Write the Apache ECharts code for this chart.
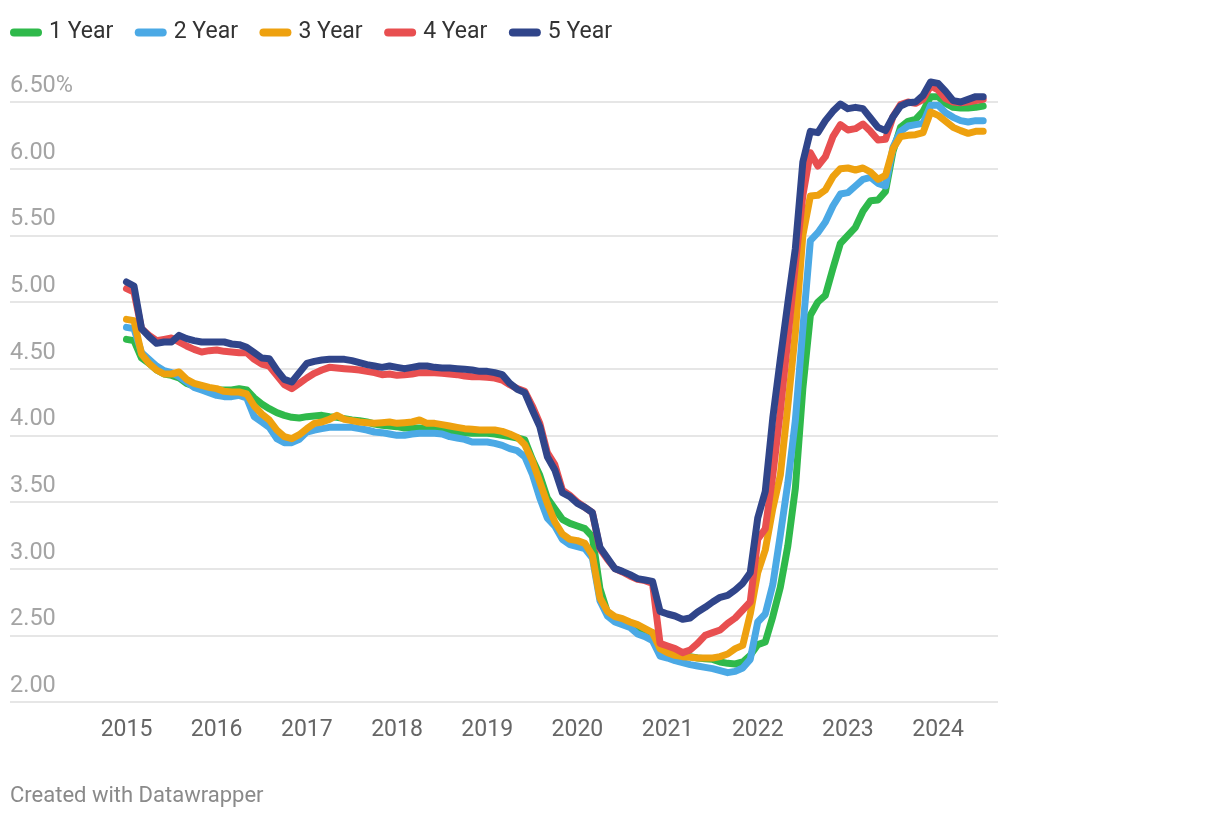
<!DOCTYPE html>
<html><head><meta charset="utf-8">
<script src="https://cdn.jsdelivr.net/npm/echarts@6/dist/echarts.min.js"></script>
<style>html,body{margin:0;padding:0;background:#fff}#c{width:1220px;height:818px}</style>
</head><body><div id="c"></div>
<script>
// Monthly points, Jan 2015 (index 0) to Jul 2024 (index 114)
const startYear = 2015;
const yearLabels = ['2015','2016','2017','2018','2019','2020','2021','2022','2023','2024'];
const seriesNames = ['1 Year','2 Year','3 Year','4 Year','5 Year'];
const seriesColors = ['#2fb94b','#4ba9e5','#eea10f','#e84f50','#30458a'];

const year1 = [
4.72,4.71,4.58,4.54,4.49,4.46,4.45,4.43,4.39,4.37,
4.35,4.345,4.34,4.34,4.34,4.35,4.34,4.28,4.235,4.20,
4.17,4.15,4.135,4.13,4.14,4.145,4.15,4.14,4.135,4.125,
4.115,4.11,4.10,4.085,4.075,4.07,4.065,4.055,4.055,4.055,
4.05,4.05,4.045,4.035,4.025,4.02,4.015,4.015,4.015,4.01,
4.00,3.99,3.98,3.965,3.82,3.70,3.53,3.45,3.37,3.34,
3.32,3.30,3.24,2.85,2.67,2.625,2.60,2.58,2.555,2.53,
2.52,2.41,2.39,2.37,2.35,2.34,2.33,2.325,2.32,2.30,
2.29,2.285,2.30,2.35,2.43,2.45,2.64,2.86,3.17,3.60,
4.35,4.90,5.00,5.05,5.25,5.44,5.50,5.56,5.68,5.76,
5.765,5.83,6.13,6.31,6.355,6.37,6.43,6.54,6.54,6.49,
6.46,6.455,6.455,6.46,6.47];

const year2 = [
4.81,4.80,4.62,4.57,4.52,4.485,4.47,4.44,4.40,4.36,
4.34,4.32,4.30,4.29,4.29,4.30,4.28,4.14,4.10,4.06,
3.975,3.945,3.945,3.97,4.025,4.04,4.05,4.06,4.06,4.06,
4.06,4.05,4.04,4.025,4.02,4.01,4.00,4.00,4.01,4.015,
4.015,4.015,4.01,3.99,3.98,3.97,3.95,3.95,3.95,3.94,
3.925,3.90,3.885,3.84,3.71,3.53,3.38,3.32,3.22,3.18,
3.165,3.15,3.08,2.76,2.645,2.60,2.58,2.56,2.51,2.49,
2.46,2.345,2.33,2.31,2.295,2.28,2.27,2.26,2.25,2.235,
2.22,2.23,2.255,2.32,2.60,2.66,2.88,3.25,3.64,4.11,
4.80,5.46,5.52,5.60,5.72,5.81,5.82,5.87,5.92,5.935,
5.89,5.87,6.16,6.28,6.32,6.33,6.34,6.475,6.475,6.42,
6.385,6.36,6.35,6.36,6.36];

const year3 = [
4.87,4.86,4.61,4.54,4.49,4.46,4.46,4.475,4.42,4.39,
4.375,4.36,4.35,4.33,4.325,4.325,4.31,4.22,4.16,4.115,
4.04,3.99,3.975,4.005,4.05,4.09,4.10,4.12,4.15,4.12,
4.11,4.10,4.095,4.09,4.095,4.10,4.09,4.095,4.10,4.115,
4.09,4.09,4.08,4.07,4.06,4.05,4.045,4.04,4.04,4.04,
4.03,4.01,3.985,3.93,3.81,3.65,3.49,3.35,3.26,3.22,
3.21,3.19,3.10,2.78,2.68,2.64,2.625,2.60,2.58,2.55,
2.52,2.40,2.37,2.35,2.34,2.335,2.33,2.33,2.33,2.34,
2.36,2.40,2.425,2.66,2.97,3.14,3.45,3.70,4.22,4.77,
5.50,5.795,5.80,5.84,5.94,6.00,6.005,5.99,6.005,5.975,
5.92,5.95,6.15,6.24,6.25,6.255,6.27,6.425,6.40,6.355,
6.31,6.285,6.265,6.28,6.28];

const year4 = [
5.10,5.075,4.80,4.75,4.71,4.72,4.73,4.70,4.67,4.645,
4.625,4.635,4.64,4.63,4.625,4.62,4.62,4.57,4.535,4.52,
4.45,4.38,4.35,4.39,4.43,4.465,4.49,4.51,4.505,4.50,
4.495,4.49,4.48,4.47,4.455,4.46,4.45,4.455,4.46,4.47,
4.47,4.47,4.465,4.46,4.455,4.445,4.44,4.44,4.435,4.43,
4.415,4.38,4.35,4.33,4.22,4.09,3.87,3.78,3.59,3.55,
3.50,3.46,3.42,3.15,3.07,3.00,2.975,2.945,2.92,2.91,
2.89,2.44,2.42,2.40,2.37,2.39,2.44,2.50,2.52,2.54,
2.59,2.63,2.69,2.75,3.22,3.30,3.70,4.18,4.72,5.28,
5.80,6.12,6.02,6.09,6.24,6.33,6.29,6.30,6.335,6.28,
6.215,6.22,6.39,6.48,6.50,6.49,6.52,6.62,6.59,6.525,
6.50,6.495,6.50,6.51,6.52];

const year5 = [
5.15,5.12,4.80,4.74,4.69,4.70,4.70,4.75,4.725,4.71,
4.70,4.70,4.70,4.70,4.685,4.68,4.66,4.62,4.58,4.575,
4.49,4.42,4.40,4.47,4.54,4.555,4.565,4.57,4.57,4.57,
4.56,4.545,4.53,4.52,4.51,4.52,4.51,4.50,4.51,4.52,
4.52,4.51,4.505,4.505,4.50,4.495,4.49,4.48,4.48,4.47,
4.455,4.39,4.345,4.32,4.19,4.065,3.84,3.74,3.57,3.54,
3.49,3.46,3.42,3.16,3.08,3.00,2.98,2.955,2.925,2.915,
2.905,2.68,2.66,2.645,2.62,2.63,2.675,2.71,2.75,2.785,
2.80,2.84,2.89,2.97,3.38,3.58,4.13,4.57,4.99,5.40,
6.05,6.28,6.27,6.36,6.43,6.485,6.45,6.46,6.45,6.38,
6.31,6.285,6.39,6.47,6.495,6.50,6.55,6.65,6.64,6.58,
6.51,6.50,6.52,6.54,6.54];

const allSeries = [year1, year2, year3, year4, year5];
const yearTicks = yearLabels.map((_, k) => k * 12);

const chart = echarts.init(document.getElementById('c'), null, {renderer: 'canvas'});
const FONT = 'Roboto, "Noto Sans", sans-serif';

chart.setOption({
  animation: false,
  backgroundColor: '#ffffff',
  textStyle: {fontFamily: FONT},
  legend: {
    left: 10, top: 21, padding: 0,
    icon: 'path://M4,0 L28,0 A4,4 0 0 1 28,8 L4,8 A4,4 0 0 1 4,0 Z',
    itemWidth: 32, itemHeight: 9, itemGap: 21.5,
    textStyle: {fontFamily: FONT, fontSize: 23, color: '#333333', padding: [0,0,0,2]},
    data: seriesNames
  },
  grid: {left: 10, right: 222, top: 102, bottom: 116, containLabel: false},
  xAxis: {
    type: 'value', min: -15.5, max: 115.97,
    axisLine: {show: false}, axisTick: {show: false}, splitLine: {show: false},
    axisLabel: {
      customValues: yearTicks,
      formatter: v => yearLabels[Math.round(v / 12)],
      color: '#666666', fontSize: 23, fontFamily: FONT, margin: 17
    }
  },
  yAxis: {
    type: 'value', min: 2, max: 6.5, interval: 0.5,
    axisLine: {show: false}, axisTick: {show: false},
    splitLine: {show: true, lineStyle: {color: '#e6e6e6', width: 2}},
    axisLabel: {
      inside: true, margin: 0,
      verticalAlign: 'bottom', align: 'left',
      padding: [0, 0, 4, 0],
      color: '#a4a4a4', fontSize: 23.5, fontFamily: FONT,
      formatter: v => (Math.abs(v - 6.5) < 1e-6 ? v.toFixed(2) + '%' : v.toFixed(2))
    }
  },
  graphic: [{
    type: 'text', left: 10, top: 785,
    style: {text: 'Created with Datawrapper', fill: '#8a8a8a', font: '22px ' + FONT}
  }],
  series: allSeries.map((arr, k) => ({
    name: seriesNames[k],
    type: 'line',
    data: arr.map((v, i) => [i, v]),
    showSymbol: false, symbol: 'none',
    clip: false,
    itemStyle: {color: seriesColors[k]},
    lineStyle: {color: seriesColors[k], width: 7, cap: 'round', join: 'round'},
    emphasis: {disabled: true}
  }))
});
</script></body></html>
